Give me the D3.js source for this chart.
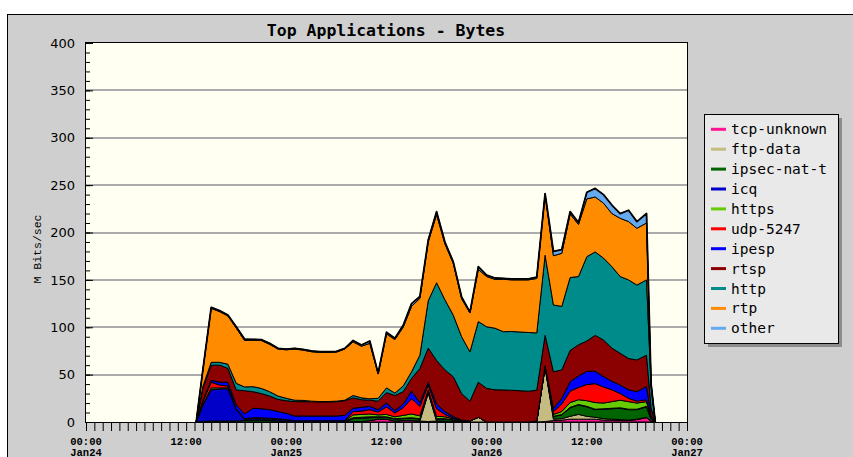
<!DOCTYPE html>
<html>
<head>
<meta charset="utf-8">
<script src="https://cdn.jsdelivr.net/npm/d3@7"></script>
<style>
body { margin: 0; background: #fff; }
svg { display: block; }
</style>
</head>
<body>
<div id="chart"></div>
<script>
// hours since Jan24 00:00
var hours = [13.2,14,15,16,17,18,19,20,21,22,23,24,25,26,27,28,29,30,31,32,33,34,35,36,37,38,39,40,41,42,43,44,45,46,47,48,49,50,51,52,53,54,55,56,57,58,59,60,61,62,63,64,65,66,67.15,67.7,68.2];

var tcpUnknown = [0,0,0,0,0,0,0,0,0,0,0,0,0,0,0,0,0,0,0,.5,.5,1.5,3,3,1,1.5,1.5,1,.5,1,1,.5,.5,0,0,0,0,0,0,0,0,0,.5,1.5,2,3,3,3,3,2,2,1.5,1.5,2.5,4.5,1,0];
var ftpData = [0,0,0,0,0,0,0,0,0,0,0,0,0,0,0,0,0,0,0,0,0,0,0,0,0,0,0,0,30,0,0,0,0,1,5,0,0,0,0,0,0,0,57,1.5,1.5,3,5,3,2,1.5,1,1,.5,.5,.5,0,0];
var ipsecNatT = [0,.5,1,1,1,1,1.5,2,2,1.5,1,.5,0,0,0,0,0,0,0,3,3.5,3,2,2,2,2,2.5,2,1,2,2,1.5,.5,0,0,0,0,0,0,0,0,.5,.5,3,4,9,10,10,8,10,11,12,11,10,11,2,0];
var icq = [0,17,33,34,34,12,1.5,1.5,1.5,1.5,1.5,1.5,1.3,1.3,1.3,1.3,1.3,1.3,1.3,1,1,1,.5,.5,.5,.5,.5,.5,.5,.5,.5,.3,0,0,0,0,0,0,0,0,0,0,0,0,.5,.5,.5,.5,.5,.5,.5,.5,.5,.5,.5,0,0];
var https = [0,1,2,1,1,.5,0,.5,.5,.5,.5,.3,0,0,0,0,0,0,.2,3,3,3,2,2.5,2,3,4,3,2,2.5,2,1,.5,0,0,0,0,0,0,0,0,.5,.5,2,3,5,5,6,7,6,7,8,8,6.5,5,1,0];
var udp5247 = [0,3,6,3,2,.5,.5,.5,.5,.5,.5,.3,0,0,0,0,0,0,0,3.5,3.5,4.5,3,8,4,8,16,10,5,8,2.5,1,0,0,0,0,0,0,0,0,0,0,.5,3,8,12,13,17,20,17,12.5,7,3.5,2,2,0,0];
var ipesp = [0,1,2,3,4,4,5,10,9.5,9,7.5,6.6,5,5,5,5,5,5,5.5,3.5,4,3.5,2.5,4,2.5,4,8,4,3,5,3,1.5,.5,0,0,0,0,0,0,0,0,0,.5,3.5,6,10,12,14,13,11,9,9,9,10,14,3,0];
var rtsp = [0,13,16,18,14.6,15.8,24.5,17.5,16,14.4,12.9,13.3,15.2,15.2,15.1,14.9,14.9,15.1,15.5,11,8,6.5,9,11,16,13,13.5,36,36,46,44,42,28,21,37,35.5,34,33.8,33.5,33,32.5,32.5,32,38.5,30,33,33,32,38,38.5,35,33.5,33,33.5,33,8,0];
var http = [0,2,3,3,4.4,7,4,5.3,5.5,4.6,3.5,2.5,1.5,1.3,.6,.4,.4,.6,.5,2.5,2,1.5,3,5,2.5,6,7,14,50,82,74,65,60,52,64,65,65,61.5,62,62,62,60.5,84.5,70.5,67,77,72,89,88,86.5,86,81,83,79,79.5,23,0];
var rtp = [0,17,57,53.5,51,58.3,49,49,50.5,50,49.6,51.2,54,53.1,52.2,51.8,51.8,51.7,54,56.5,54.5,58.5,25.9,57,56.5,62,69,60,62,72,59,54.7,40,41,55,53,51.5,55.3,54.5,55,55.5,57.5,64,52,56,67,55,61,58,58,56,61.5,61.5,60,60,2,0];
var other = [0,.5,1,1,1,1.5,1.5,1,1,1,.8,.8,.8,.8,.8,.8,.8,.8,.8,1.5,1.3,2.5,.5,1.7,1.5,2,3,2,2,3,2,1.5,2,1,3,1.5,1.5,1,1,1,1,1.5,1,4.5,4,2.5,2,7,9,9,9,5,12,7,10,0,0];

var seriesNames = ["tcp-unknown","ftp-data","ipsec-nat-t","icq","https","udp-5247","ipesp","rtsp","http","rtp","other"];
var seriesValues = [tcpUnknown, ftpData, ipsecNatT, icq, https, udp5247, ipesp, rtsp, http, rtp, other];
var seriesColors = ["#ff1493","#c4bc80","#006400","#0000c8","#66cc00","#ff0000","#0000ff","#8b0000","#008b8b","#ff8c00","#66aaee"];

var yTicks = [0,50,100,150,200,250,300,350,400];
var xTickHours = [0,12,24,36,48,60,72];
var xTickTimes = ["00:00","12:00","00:00","12:00","00:00","12:00","00:00"];
var xTickDays = ["Jan24","","Jan25","","Jan26","","Jan27"];

var W = 853, H = 457;
var margin = {top: 43, left: 86};
var width = 601, height = 379;

var svg = d3.select("#chart").append("svg")
	.attr("width", W)
	.attr("height", H);

// grey panel
svg.append("rect")
	.attr("x", 7.5).attr("y", 14.5)
	.attr("width", W + 10).attr("height", H + 10)
	.attr("fill", "#cfcfcf")
	.attr("stroke", "#000")
	.attr("stroke-width", 1);

svg.append("text")
	.attr("x", 386).attr("y", 36)
	.attr("text-anchor", "middle")
	.style("font-family", "'DejaVu Sans Mono', monospace")
	.style("font-weight", "bold")
	.style("font-size", "16.5px")
	.text("Top Applications - Bytes");

var g = svg.append("g")
	.attr("transform", "translate(" + margin.left + "," + margin.top + ")");

var x = d3.scaleLinear().domain([0, 72]).range([0, width]);
var y = d3.scaleLinear().domain([0, 400]).range([height, 0]);

g.append("rect")
	.attr("width", width).attr("height", height)
	.attr("fill", "#fffff2");

// grid lines
g.selectAll(".grid").data(yTicks.filter(function(d){ return d > 0 && d < 400; }))
	.enter().append("line")
	.attr("class", "grid")
	.attr("x1", 0).attr("x2", width)
	.attr("y1", function(d){ return Math.round(y(d)); })
	.attr("y2", function(d){ return Math.round(y(d)); })
	.attr("stroke", "#ababab")
	.attr("stroke-width", 2);

var rows = hours.map(function(h, i) {
	var r = {h: h};
	seriesNames.forEach(function(k, j){ r[k] = seriesValues[j][i]; });
	return r;
});

var stack = d3.stack().keys(seriesNames);
var layers = stack(rows);

var area = d3.area()
	.x(function(d){ return x(d.data.h); })
	.y0(function(d){ return y(d[0]); })
	.y1(function(d){ return y(d[1]); });

g.selectAll(".layer").data(layers)
	.enter().append("path")
	.attr("class", "layer")
	.attr("d", area)
	.attr("fill", function(d, i){ return seriesColors[i]; })
	.attr("stroke", "#000")
	.attr("stroke-width", 1)
	.attr("stroke-linejoin", "round");

var topLine = d3.line()
	.x(function(d){ return x(d.data.h); })
	.y(function(d){ return y(d[1]); });

g.append("path")
	.attr("d", topLine(layers[layers.length - 1]))
	.attr("fill", "none")
	.attr("stroke", "#000")
	.attr("stroke-width", 1.8)
	.attr("stroke-linejoin", "round");

// plot frame
g.append("rect")
	.attr("x", -0.5).attr("y", -0.5)
	.attr("width", width + 1).attr("height", height + 1)
	.attr("fill", "none")
	.attr("stroke", "#000");

// y ticks inside plot
var yMinor = d3.axisRight(y).tickValues(d3.range(0, 401, 10)).tickSize(4).tickFormat("");
var yMajor = d3.axisRight(y).tickValues(yTicks).tickSize(7).tickFormat("");
g.append("g").call(yMinor).call(function(s){ s.select(".domain").remove(); });
g.append("g").call(yMajor).call(function(s){ s.select(".domain").remove(); });

var yLabels = d3.axisLeft(y).tickValues(yTicks).tickSize(0).tickPadding(11);
g.append("g")
	.call(yLabels)
	.call(function(s){
		s.select(".domain").remove();
		s.selectAll("text")
			.style("font-family", "'DejaVu Sans', sans-serif")
			.style("font-size", "13px")
			.attr("fill", "#000");
	});

// x ticks hourly
var xAxis = d3.axisBottom(x).tickValues(d3.range(0, 73, 1)).tickSize(9).tickFormat("");
g.append("g")
	.attr("transform", "translate(0," + height + ")")
	.call(xAxis)
	.call(function(s){ s.select(".domain").remove(); });

var xl = g.append("g").attr("transform", "translate(0," + height + ")");
xl.selectAll(".t").data(xTickHours).enter().append("text")
	.attr("x", function(d){ return x(d); })
	.attr("y", 23)
	.attr("text-anchor", "middle")
	.style("font-family", "'Liberation Mono', monospace")
	.style("font-weight", "bold")
	.style("font-size", "10.5px")
	.text(function(d, i){ return xTickTimes[i]; });
xl.selectAll(".d").data(xTickHours).enter().append("text")
	.attr("x", function(d){ return x(d); })
	.attr("y", 33.5)
	.attr("text-anchor", "middle")
	.style("font-family", "'Liberation Mono', monospace")
	.style("font-weight", "bold")
	.style("font-size", "10.5px")
	.text(function(d, i){ return xTickDays[i]; });

svg.append("text")
	.attr("transform", "translate(41,249) rotate(-90)")
	.attr("text-anchor", "middle")
	.style("font-family", "'Liberation Mono', monospace")
	.style("font-size", "11.5px")
	.text("M Bits/sec");

// legend
var lg = svg.append("g").attr("transform", "translate(704,114)");
lg.append("rect")
	.attr("x", 4).attr("y", 4)
	.attr("width", 134).attr("height", 229)
	.attr("fill", "#8c8c8c");
lg.append("rect")
	.attr("x", 0.5).attr("y", 0.5)
	.attr("width", 134).attr("height", 229)
	.attr("fill", "#e9e9e9")
	.attr("stroke", "#000");
var item = lg.selectAll(".item").data(seriesNames).enter().append("g")
	.attr("transform", function(d, i){ return "translate(0," + (15.3 + i * 19.9) + ")"; });
item.append("line")
	.attr("x1", 7).attr("x2", 22)
	.attr("stroke", function(d, i){ return seriesColors[i]; })
	.attr("stroke-width", 3);
item.append("text")
	.attr("x", 27).attr("y", 5)
	.style("font-family", "'DejaVu Sans Mono', monospace")
	.style("font-size", "14.5px")
	.text(function(d){ return d; });
</script>
</body>
</html>
